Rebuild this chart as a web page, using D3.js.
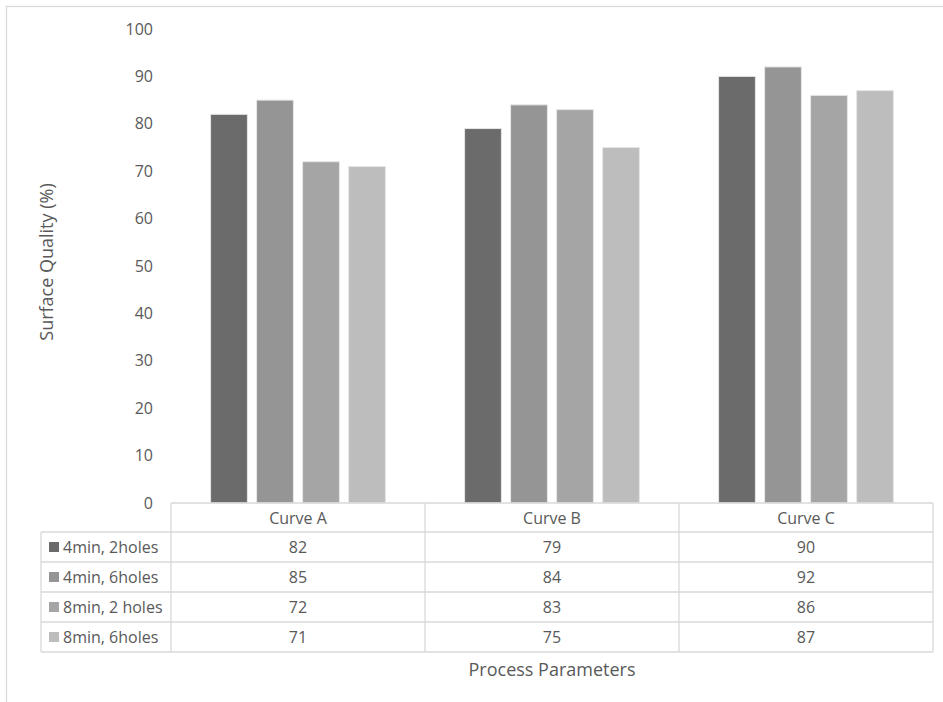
<!DOCTYPE html>
<html><head><meta charset="utf-8">
<script src="https://cdn.jsdelivr.net/npm/d3@7"></script>
<style>body{margin:0;background:#fff}svg text{font-family:"Open Sans",sans-serif;fill:#595959}</style>
</head><body>
<svg id="c" width="943" height="702"></svg>
<script>
const categories = ["Curve A", "Curve B", "Curve C"];
const seriesNames = ["4min, 2holes", "4min, 6holes", "8min, 2 holes", "8min, 6holes"];
const s1 = [82, 79, 90];
const s2 = [85, 84, 92];
const s3 = [72, 83, 86];
const s4 = [71, 75, 87];
const yTicks = [0, 10, 20, 30, 40, 50, 60, 70, 80, 90, 100];
const colors = ["#6b6b6b", "#959595", "#a5a5a5", "#bdbdbd"];
const series = [s1, s2, s3, s4];

(function () {
const svg = d3.select("#c");
svg.append("rect").attr("x", 6.5).attr("y", 6.5).attr("width", 950).attr("height", 720)
  .attr("fill", "none").attr("stroke", "#d9d9d9").attr("stroke-width", 1.3);

const pLeft = 171, pRight = 933, pTop = 29, pBottom = 503;
const x = d3.scaleBand().domain(categories).range([pLeft, pRight]);
const y = d3.scaleLinear().domain([0, 100]).range([pBottom, pTop]);
const inner = d3.scaleBand().domain(d3.range(4)).range([0, x.bandwidth()]).paddingInner(0.2).paddingOuter(0.86);

const yAxis = d3.axisLeft(y).tickValues(yTicks).tickSize(0).tickPadding(0);
const ga = svg.append("g").attr("transform", "translate(153,0)").call(yAxis);
ga.select(".domain").remove();
ga.selectAll("text").attr("font-size", 16).attr("fill", "#595959").attr("font-family", '"Open Sans",sans-serif');

series.forEach((s, i) => {
  svg.append("g").selectAll("rect").data(s).join("rect")
    .attr("x", (d, j) => x(categories[j]) + inner(i))
    .attr("y", d => y(d))
    .attr("width", inner.bandwidth())
    .attr("height", d => y(0) - y(d))
    .attr("fill", colors[i])
    .attr("stroke", "#e6e6e6").attr("stroke-width", 1);
});

const lineC = "#d9d9d9";
const rowTop = [503, 532, 562, 592, 622, 652];
const tbl = svg.append("g");
tbl.append("line").attr("x1", pLeft).attr("x2", pRight).attr("y1", rowTop[0]).attr("y2", rowTop[0]).attr("stroke", lineC).attr("stroke-width", 1.3);
rowTop.slice(1).forEach(yy => {
  tbl.append("line").attr("x1", 41).attr("x2", pRight).attr("y1", yy).attr("y2", yy).attr("stroke", lineC).attr("stroke-width", 1.3);
});
tbl.append("line").attr("x1", 41).attr("x2", 41).attr("y1", rowTop[1]).attr("y2", rowTop[5]).attr("stroke", lineC).attr("stroke-width", 1.3);
[pLeft, x("Curve B"), x("Curve C"), pRight].forEach(xx => {
  tbl.append("line").attr("x1", xx).attr("x2", xx).attr("y1", rowTop[0]).attr("y2", rowTop[5]).attr("stroke", lineC).attr("stroke-width", 1.3);
});
categories.forEach(c => {
  tbl.append("text").attr("x", x(c) + x.bandwidth() / 2).attr("y", (rowTop[0] + rowTop[1]) / 2)
    .attr("text-anchor", "middle").attr("dominant-baseline", "central").attr("font-size", 16).text(c);
});
seriesNames.forEach((n, i) => {
  const cy = (rowTop[i + 1] + rowTop[i + 2]) / 2;
  tbl.append("rect").attr("x", 49).attr("y", cy - 5).attr("width", 10).attr("height", 10).attr("fill", colors[i]);
  tbl.append("text").attr("x", 63).attr("y", cy).attr("dominant-baseline", "central").attr("font-size", 16).text(n);
  series[i].forEach((v, j) => {
    tbl.append("text").attr("x", x(categories[j]) + x.bandwidth() / 2).attr("y", cy)
      .attr("text-anchor", "middle").attr("dominant-baseline", "central").attr("font-size", 16).text(v);
  });
});

svg.append("text").attr("transform", "translate(46,262) rotate(-90)").attr("text-anchor", "middle")
  .attr("dominant-baseline", "central").attr("font-size", 18).text("Surface Quality (%)");
svg.append("text").attr("x", 552).attr("y", 669).attr("text-anchor", "middle")
  .attr("dominant-baseline", "central").attr("font-size", 18).text("Process Parameters");
})();
</script>
</body></html>
